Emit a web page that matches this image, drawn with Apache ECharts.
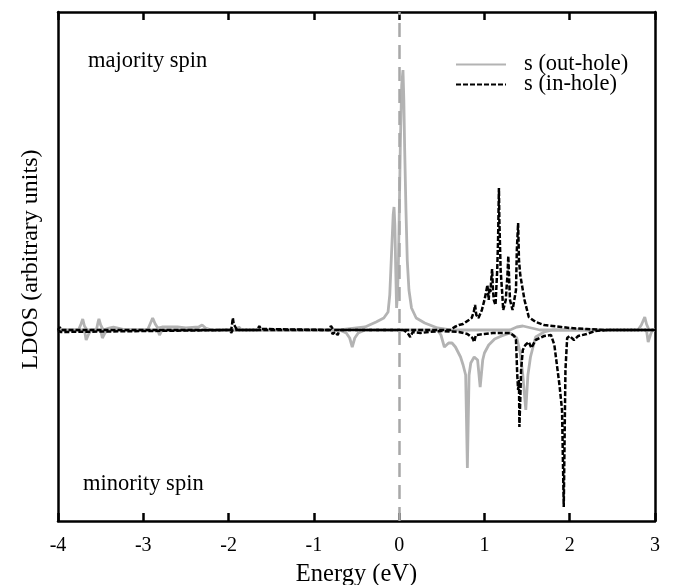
<!DOCTYPE html>
<html>
<head>
<meta charset="utf-8">
<script src="https://cdn.jsdelivr.net/npm/echarts@6/dist/echarts.min.js"></script>
<style>html,body{margin:0;padding:0;background:#fff;}#c{width:678px;height:585px;}</style>
</head>
<body>
<div id="c"></div>
<script>
// ---- data (energy in eV, LDOS in arbitrary units) ----
var xTicks = [-4, -3, -2, -1, 0, 1, 2, 3];
var yRange = [-191, 318];

// s (out-hole), majority spin
var outUpE = [-4.0,-3.76,-3.73,-3.71,-3.69,-3.66,-3.55,-3.53,-3.52,-3.50,-3.47,-3.40,-3.35,-3.30,-3.20,-2.95,-2.92,-2.89,-2.86,-2.83,-2.78,-2.60,-2.50,-2.35,-2.31,-2.27,-2.20,-1.90,-1.88,-1.85,-0.70,-0.40,-0.27,-0.18,-0.13,-0.11,-0.09,-0.07,-0.06,-0.05,-0.04,-0.03,-0.02,-0.01,0.0,0.015,0.03,0.045,0.055,0.065,0.08,0.095,0.115,0.145,0.20,0.30,0.45,0.6,1.30,1.38,1.45,1.55,1.65,2.80,2.84,2.88,2.90,2.93,3.0];
var outUpV = [0,0,6,11,4,0,0,8,11,5,0,2,3,2,0,0,6,12,6,2,3,3,2,3,5,2,0,0,3,0,0,3,8,12,18,35,75,115,123,105,60,22,35,60,110,190,245,260,230,180,120,70,40,22,12,7,2,0,0,3,4,2,0,0,5,13,6,0,0];

// s (out-hole), minority spin
var outDnE = [-4.0,-3.69,-3.67,-3.64,-3.61,-3.50,-3.48,-3.45,-3.42,-2.83,-2.81,-2.78,-0.70,-0.62,-0.58,-0.55,-0.52,-0.48,-0.40,0.45,0.49,0.53,0.58,0.62,0.66,0.72,0.75,0.78,0.80,0.82,0.84,0.88,0.92,0.95,0.98,1.00,1.05,1.12,1.20,1.30,1.38,1.42,1.45,1.485,1.51,1.54,1.60,1.70,1.80,2.90,2.92,2.95,2.97,3.0];
var outDnV = [0,0,-10,-4,0,0,-8,-3,0,0,-5,0,0,-3,-8,-17,-8,-3,0,0,-5,-17,-13,-13,-17,-27,-35,-45,-138,-45,-33,-27,-30,-57,-30,-23,-15,-9,-6,-3,-8,-23,-45,-80,-45,-27,-7,-2,0,0,-12,-4,0,0];

// s (in-hole), majority spin
var inUpE = [-4.0,-3.98,-3.96,-3.93,-1.97,-1.96,-1.95,-1.94,-1.92,-1.90,-1.66,-1.64,-1.62,-1.60,-0.82,-0.80,-0.77,0.60,0.65,0.70,0.75,0.80,0.85,0.875,0.89,0.905,0.93,0.97,1.00,1.02,1.035,1.05,1.06,1.07,1.08,1.09,1.10,1.11,1.13,1.15,1.16,1.17,1.175,1.19,1.21,1.22,1.25,1.27,1.28,1.29,1.30,1.33,1.37,1.38,1.395,1.405,1.42,1.47,1.52,1.60,1.70,1.80,1.90,2.00,2.20,2.40,3.0];
var inUpV = [0,3,0,0,0,5,12,6,3,0,0,4,1,0,0,4,0,0,3,5,6,9,12,18,25,15,12,20,30,38,45,30,42,38,50,61,40,30,25,60,90,142,110,60,35,20,30,55,74,50,30,20,40,80,107,70,55,30,13,8,5,4,3,2,1,0,0];

// s (in-hole), minority spin
var inDnE = [-4.0,-3.97,-3.95,-1.98,-1.97,-1.95,-0.80,-0.78,-0.75,-0.72,-0.70,0.05,0.10,0.13,0.16,0.25,0.35,0.50,0.70,0.80,0.86,0.88,0.90,1.00,1.10,1.20,1.30,1.35,1.37,1.385,1.395,1.405,1.41,1.42,1.43,1.45,1.48,1.52,1.55,1.60,1.70,1.78,1.82,1.85,1.88,1.91,1.93,1.95,1.97,2.00,2.05,2.10,2.20,2.30,2.45,3.0];
var inDnV = [0,-2,0,0,-3,0,0,-4,-2,-5,0,0,-3,-7,-2,-3,-2,-1,-2,-4,-8,-12,-5,-4,-3,-3,-3,-6,-10,-45,-60,-50,-97,-70,-40,-20,-15,-12,-18,-10,-6,-5,-15,-35,-55,-80,-177,-40,-8,-6,-10,-6,-4,-1,0,0];

// solid zero line on the low-energy side
var baseE = [-4.0, -0.82];
var baseV = [0, 0];

var fermiE = 0;

var legendNames = ['s (out-hole)', 's (in-hole)'];
var xTitle = 'Energy (eV)';
var yTitle = 'LDOS (arbitrary units)';
var panelTop = 'majority spin';
var panelBottom = 'minority spin';

function pairs(e, v) { return e.map(function (x, i) { return [x, v[i]]; }); }

var FONT = 'Liberation Serif';
var GREY = '#b3b3b3';

var chart = echarts.init(document.getElementById('c'), null, {renderer: 'canvas'});
var axisCommon = {
  type: 'value', min: xTicks[0], max: xTicks[xTicks.length - 1], interval: 1,
  axisLine: {show: true, onZero: false, lineStyle: {color: '#000', width: 2.5}},
  axisTick: {show: true, inside: true, length: 8, lineStyle: {color: '#000', width: 2.5}},
  splitLine: {show: false}
};
chart.setOption({
  animation: false,
  backgroundColor: '#fff',
  grid: {left: 58, right: 23, top: 12, bottom: 64, containLabel: false, outerBoundsMode: 'none'},
  legend: {
    show: true, orient: 'vertical', left: 450, top: 48,
    itemWidth: 50, itemHeight: 14, itemGap: -3,
    data: legendNames,
    itemStyle: {opacity: 0},
    textStyle: {fontFamily: FONT, fontSize: 22.5, color: '#000', lineHeight: 20, padding: [0, 0, 0, 13]}
  },
  xAxis: [
    Object.assign({}, axisCommon, {
      position: 'bottom',
      axisLabel: {show: true, fontFamily: FONT, fontSize: 20, color: '#000', margin: 15},
      name: xTitle, nameLocation: 'middle', nameGap: 41,
      nameTextStyle: {fontFamily: FONT, fontSize: 24.5, color: '#000'}
    }),
    Object.assign({}, axisCommon, {position: 'top', axisLabel: {show: false}})
  ],
  yAxis: [
    {
      type: 'value', min: yRange[0], max: yRange[1], position: 'left',
      axisLine: {show: true, onZero: false, lineStyle: {color: '#000', width: 2.5}},
      axisTick: {show: false}, axisLabel: {show: false}, splitLine: {show: false}
    },
    {
      type: 'value', min: yRange[0], max: yRange[1], position: 'right',
      axisLine: {show: true, onZero: false, lineStyle: {color: '#000', width: 2.5}},
      axisTick: {show: false}, axisLabel: {show: false}, splitLine: {show: false}
    }
  ],
  graphic: [
    {type: 'text', x: 31, y: 259.5, rotation: Math.PI / 2,
     style: {text: yTitle, font: '24px "Liberation Serif"', fill: '#000', align: 'center', verticalAlign: 'middle'}},
    {type: 'text', x: 88, y: 61, style: {text: panelTop, font: '22.5px "Liberation Serif"', fill: '#000', align: 'left', verticalAlign: 'middle'}},
    {type: 'text', x: 83, y: 484, style: {text: panelBottom, font: '22.5px "Liberation Serif"', fill: '#000', align: 'left', verticalAlign: 'middle'}}
  ],
  series: [
    {
      name: 'zero', type: 'line', data: pairs(baseE, baseV), showSymbol: false, symbol: 'none',
      lineStyle: {color: '#000', width: 2}, z: 1
    },
    {
      name: legendNames[0], type: 'line', data: pairs(outUpE, outUpV), showSymbol: false, symbol: 'none',
      color: GREY, lineStyle: {color: GREY, width: 2.8}, z: 2,
      markLine: {
        silent: true, symbol: 'none', label: {show: false},
        lineStyle: {color: '#a8a8a8', width: 2.5, type: [14, 8]},
        data: [{xAxis: fermiE}]
      }
    },
    {
      name: legendNames[0], type: 'line', data: pairs(outDnE, outDnV), showSymbol: false, symbol: 'none',
      color: GREY, lineStyle: {color: GREY, width: 2.8}, z: 2
    },
    {
      name: legendNames[1], type: 'line', data: pairs(inUpE, inUpV), showSymbol: false, symbol: 'none',
      color: '#000', lineStyle: {color: '#000', width: 2.5, type: [5, 2]}, z: 3
    },
    {
      name: legendNames[1], type: 'line', data: pairs(inDnE, inDnV), showSymbol: false, symbol: 'none',
      color: '#000', lineStyle: {color: '#000', width: 2.5, type: [5, 2]}, z: 3
    }
  ]
});
</script>
</body>
</html>
